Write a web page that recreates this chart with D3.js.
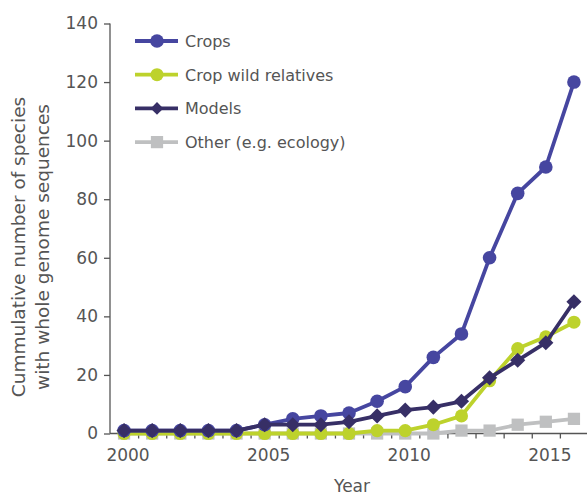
<!DOCTYPE html>
<html><head><meta charset="utf-8">
<script src="https://cdn.jsdelivr.net/npm/d3@7"></script>
<style>body{margin:0;background:#fff}svg{display:block}text{font-family:"DejaVu Sans",sans-serif;fill:#555}</style>
</head><body>
<svg id="c" width="587" height="495"></svg>
<script>
const years = [2000,2001,2002,2003,2004,2005,2006,2007,2008,2009,2010,2011,2012,2013,2014,2015,2016];
const crops = [1,1,1,1,1,3,5,6,7,11,16,26,34,60,82,91,120];
const cropWildRelatives = [0,0,0,0,0,0,0,0,0,1,1,3,6,18,29,33,38];
const models = [1,1,1,1,1,3,3,3,4,6,8,9,11,19,25,31,45];
const other = [0,0,0,0,0,0,0,0,0,0,0,0,1,1,3,4,5];
const yTicks = [0,20,40,60,80,100,120,140];
const xLabels = [2000,2005,2010,2015];
const seriesNames = ["Crops","Crop wild relatives","Models","Other (e.g. ecology)"];

const svg = d3.select("#c");
const x = d3.scaleLinear().domain([1999.5,2016.5]).range([110,588]);
const y = d3.scaleLinear().domain([0,140]).range([433.5,23.5]);

const series = [
  {name:seriesNames[3], data:other, color:"#bfc0c1", shape:d3.symbolSquare, size:150, rot:0},
  {name:seriesNames[1], data:cropWildRelatives, color:"#bdd22c", shape:d3.symbolCircle, size:135, rot:0},
  {name:seriesNames[0], data:crops, color:"#4646a0", shape:d3.symbolCircle, size:145, rot:0},
  {name:seriesNames[2], data:models, color:"#372f66", shape:d3.symbolSquare, size:115, rot:45}
];

const yAxis = svg.append("g").attr("transform","translate(110,0)")
  .call(d3.axisLeft(y).tickValues(yTicks).tickSize(6).tickPadding(6));
yAxis.select(".domain").attr("stroke","#555").attr("stroke-width",1.3).attr("d","M0,23.5V433.5");
yAxis.selectAll(".tick line").attr("stroke","#555").attr("stroke-width",1.3);
yAxis.selectAll("text").style("font-size","17px").style("font-family","DejaVu Sans").attr("fill","#555");

const xAxis = svg.append("g").attr("transform","translate(0,433.5)")
  .call(d3.axisBottom(x).tickValues(d3.range(2000.5,2016,1)).tickSize(5).tickFormat(""));
xAxis.select(".domain").attr("stroke","#555").attr("stroke-width",1.3).attr("d","M110,0H588");
xAxis.selectAll(".tick line").attr("stroke","#555").attr("stroke-width",1.3);
svg.append("g").selectAll("text").data(xLabels).join("text")
  .attr("x",d=>x(d)+4).attr("y",461).attr("text-anchor","middle")
  .style("font-size","17px").text(d=>d);

svg.append("text").attr("x",352).attr("y",492).attr("text-anchor","middle").style("font-size","17px").text("Year");
svg.append("text").attr("transform","translate(25,247) rotate(-90)").attr("text-anchor","middle").style("font-size","18.5px").text("Cummulative number of species");
svg.append("text").attr("transform","translate(49,247) rotate(-90)").attr("text-anchor","middle").style("font-size","18.5px").text("with whole genome sequences");

const line = d3.line().x((d,i)=>x(years[i])).y(d=>y(d));
series.forEach(s=>{
  const g = svg.append("g");
  g.append("path").attr("d",line(s.data)).attr("fill","none").attr("stroke",s.color).attr("stroke-width",3.8).attr("stroke-linejoin","round");
  g.selectAll("path.m").data(s.data).join("path").attr("class","m")
    .attr("transform",(d,i)=>`translate(${x(years[i])},${y(d)}) rotate(${s.rot})`)
    .attr("d",d3.symbol().type(s.shape).size(s.size)).attr("fill",s.color);
});

const legendOrder = [series[2],series[1],series[3],series[0]];
legendOrder.forEach((s,i)=>{
  const ly = 41 + i*33.7;
  const g = svg.append("g");
  g.append("line").attr("x1",135).attr("x2",178).attr("y1",ly).attr("y2",ly).attr("stroke",s.color).attr("stroke-width",3.8);
  g.append("path").attr("transform",`translate(157,${ly}) rotate(${s.rot})`).attr("d",d3.symbol().type(s.shape).size(s.rot? 80 : s.size)).attr("fill",s.color);
  g.append("text").attr("x",185).attr("y",ly+6).style("font-size","16px").text(s.name);
});
</script>
</body></html>
